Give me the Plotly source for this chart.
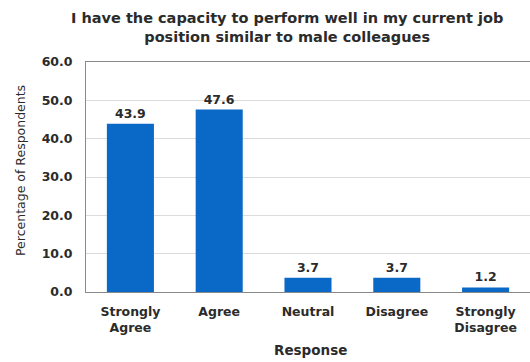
import plotly.graph_objects as go

categories = ["Strongly<br>Agree", "Agree", "Neutral", "Disagree", "Strongly<br>Disagree"]
values = [43.9, 47.6, 3.7, 3.7, 1.2]
y_ticks = [0, 10, 20, 30, 40, 50, 60]
y_tick_labels = ["0.0", "10.0", "20.0", "30.0", "40.0", "50.0", "60.0"]

FONT = "DejaVu Sans"
TXT = "#2b2b2b"

L, T, B, W, H = 86, 62, 70, 530, 362
PW, PH = W - L, H - T - B


def px_x(x):
    return (x - L) / PW


def px_y(y):
    return (H - B - y) / PH


fig = go.Figure(go.Bar(
    x=categories, y=values,
    marker=dict(color="#0A69C6", line=dict(width=0)),
    text=[f"{v:.1f}" for v in values],
    textposition="outside",
    textfont=dict(family=FONT, size=12.5, color=TXT, weight="bold"),
    cliponaxis=False,
))

fig.update_layout(
    width=W, height=H,
    margin=dict(l=L, r=0, t=T, b=B),
    paper_bgcolor="white", plot_bgcolor="white",
    bargap=0.47,
    showlegend=False,
    annotations=[
        dict(text="I have the capacity to perform well in my current job<br>position similar to male colleagues",
             xref="paper", yref="paper", x=px_x(287), y=px_y(28),
             xanchor="center", yanchor="middle", showarrow=False,
             font=dict(family=FONT, size=14.5, color=TXT, weight="bold")),
        dict(text="Percentage of Respondents", textangle=-90,
             xref="paper", yref="paper", x=px_x(20), y=px_y(171),
             xanchor="center", yanchor="middle", showarrow=False,
             font=dict(family=FONT, size=12.5, color=TXT)),
        dict(text="Response",
             xref="paper", yref="paper", x=px_x(310), y=px_y(350),
             xanchor="center", yanchor="middle", showarrow=False,
             font=dict(family=FONT, size=13.5, color=TXT, weight="bold")),
    ],
)
fig.update_xaxes(
    showline=True, linecolor="#8a8a8a", linewidth=1, mirror=True,
    tickfont=dict(family=FONT, size=12.5, color=TXT, weight="bold"),
    ticks="", ticklabelstandoff=8,
)
fig.update_yaxes(
    range=[0, 60], tickvals=y_ticks, ticktext=y_tick_labels,
    showline=True, linecolor="#8a8a8a", linewidth=1, mirror=True,
    showgrid=True, gridcolor="#DCDCDC", gridwidth=1,
    tickfont=dict(family=FONT, size=12.5, color=TXT, weight="bold"),
    ticks="", zeroline=False, ticklabelstandoff=10,
)

fig.write_html("out.html")
